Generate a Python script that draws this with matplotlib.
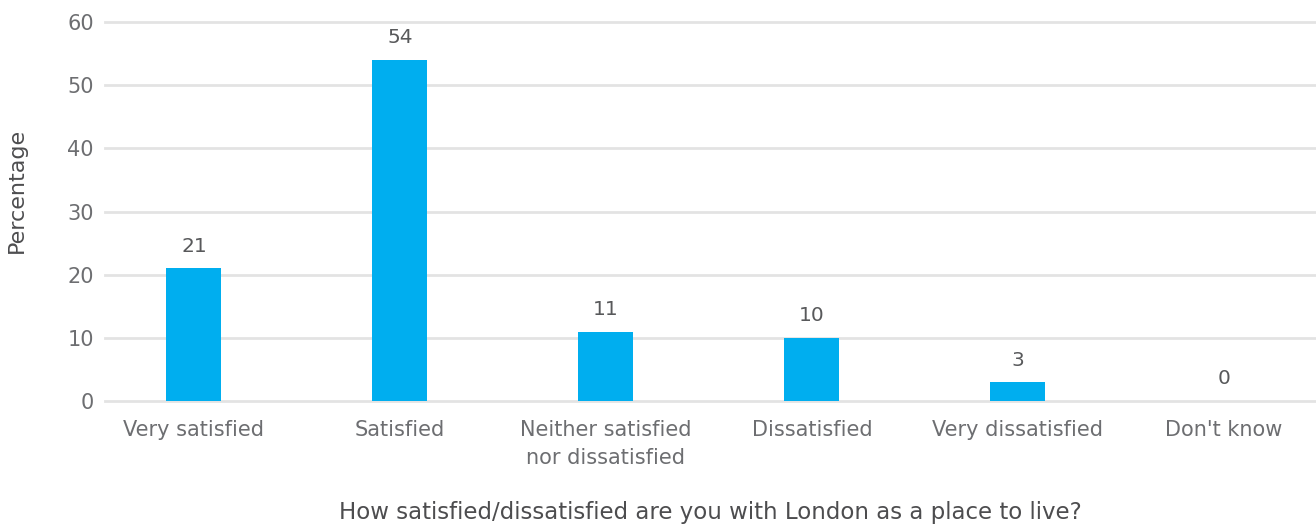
import matplotlib
matplotlib.use("Agg")
import matplotlib.pyplot as plt

categories = ["Very satisfied", "Satisfied", "Neither satisfied\nnor dissatisfied",
              "Dissatisfied", "Very dissatisfied", "Don't know"]
values = [21, 54, 11, 10, 3, 0]
yticks = [0, 10, 20, 30, 40, 50, 60]

plt.rcParams['font.family'] = ['DejaVu Sans']
txt = '#6d6e71'

fig = plt.figure(figsize=(13.16, 5.25), dpi=100)
ax = fig.add_axes([105/1316, 1-401/525, 1-105/1316, (401-22)/525])
x = list(range(len(categories)))
bars = ax.bar(x, values, width=0.267, color='#00aeef', zorder=3)
for xi, v in zip(x, values):
    ax.annotate(str(v), (xi, v), xytext=(0, 9), textcoords='offset points',
                ha='center', va='bottom', fontsize=14.5, color='#58595b')

ax.set_ylim(0, 60)
ax.set_xlim(-0.432, 5.447)
ax.set_yticks(yticks)
ax.set_xticks(x)
ax.set_xticklabels(categories, fontsize=15, color=txt, linespacing=1.45)
ax.tick_params(axis='y', labelsize=15, labelcolor=txt, length=0, pad=8)
ax.tick_params(axis='x', length=0, pad=14)
for lab in ax.get_xticklabels():
    lab.set_verticalalignment('top')
ax.grid(axis='y', color='#e3e3e3', linewidth=2, zorder=0, clip_on=False)
for s in ax.spines.values():
    s.set_visible(False)

fig.text(17/1316, 1-190/525, "Percentage", rotation=90, ha='center', va='center',
         fontsize=16, color='#4d4d4f', fontweight='medium')
fig.text(710/1316, 1-512/525, "How satisfied/dissatisfied are you with London as a place to live?",
         ha='center', va='center', fontsize=16.5, color='#4d4d4f', fontweight='medium')

fig.savefig("out.png", dpi=100)
